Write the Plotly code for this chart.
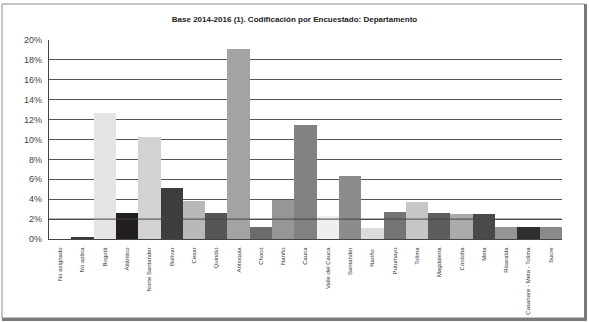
import plotly.graph_objects as go

categories = ["No asignado", "No aplica", "Bogotá", "Atlántico", "Norte Santander", "Bolívar",
              "Cesar", "Quindío", "Antioquia", "Chocó", "Nariño", "Cauca", "Valle del Cauca",
              "Santander", "Nariño ", "Putumayo", "Tolima", "Magdalena", "Córdoba", "Meta",
              "Risaralda", "Casanare - Meta - Tolima", "Sucre"]
values = [0.0, 0.2, 12.7, 2.6, 10.3, 5.1, 3.8, 2.6, 19.1, 1.2, 3.9, 11.5, 2.3,
          6.3, 1.1, 2.7, 3.7, 2.6, 2.5, 2.5, 1.2, 1.2, 1.2]
colors = ["#ffffff", "#3a3a3a", "#e4e4e4", "#231f20", "#d2d2d2", "#3d3d3d", "#b9b9b9",
          "#565656", "#a3a3a5", "#6b6b6b", "#969696", "#828282", "#efefef", "#8c8c8c",
          "#dcdcdc", "#747474", "#c6c6c6", "#5d5d5d", "#ababab", "#4a4a4a", "#959595",
          "#2f2f2f", "#8a8a8a"]
y_ticks = [0, 2, 4, 6, 8, 10, 12, 14, 16, 18, 20]
y_tick_labels = [f"{v}%" for v in y_ticks]
title = "Base 2014-2016 (1). Codificación por Encuestado: Departamento"

FONT = "Liberation Sans Narrow, Liberation Sans, Arial"

fig = go.Figure(go.Bar(x=categories, y=values, marker=dict(color=colors, line=dict(width=0)),
                       width=1.0))

W, H = 589, 322
L, R, T, B = 49, 27, 40, 83
pw, ph = W - L - R, H - T - B

def px(x):
    return (x - L) / pw

def py(y):
    return (H - B - y) / ph

shapes = [
    dict(type="rect", xref="paper", yref="paper", x0=px(2), x1=px(585), y0=py(318), y1=py(4),
         line=dict(color="#8a8a8a", width=1), layer="below"),
    dict(type="line", xref="paper", yref="paper", x0=px(585.5), x1=px(585.5), y0=py(319.5), y1=py(4),
         line=dict(color="#7a7a7a", width=3)),
    dict(type="line", xref="paper", yref="paper", x0=px(2), x1=px(587), y0=py(319.5), y1=py(319.5),
         line=dict(color="#7a7a7a", width=3)),
    dict(type="line", xref="paper", yref="y", x0=0, x1=1, y0=2, y1=2,
         line=dict(color="#444444", width=1), layer="above"),
]

fig.update_layout(
    width=W, height=H,
    margin=dict(l=L, r=R, t=T, b=B, autoexpand=False),
    paper_bgcolor="white", plot_bgcolor="white",
    showlegend=False,
    bargap=0,
    shapes=shapes,
    title=dict(text="<b>" + title + "</b>", x=0.5, xref="container", xanchor="center",
               y=1 - 19 / H, yref="container", yanchor="middle",
               font=dict(family=FONT, size=8, color="#222222")),
    xaxis=dict(type="category", tickangle=-90, tickfont=dict(family=FONT, size=6, color="#333333"),
               showline=True, linecolor="#444444", linewidth=1, showgrid=False, automargin=False,
               ticks="", ticklabelstandoff=5, range=[-0.5, len(categories) - 0.5]),
    yaxis=dict(range=[0, 20], tickvals=y_ticks, ticktext=y_tick_labels, automargin=False,
               tickfont=dict(family=FONT, size=9, color="#444444"),
               showgrid=True, gridcolor="#555555", gridwidth=1.2,
               showline=True, linecolor="#444444", linewidth=1.2,
               ticks="", zeroline=False, ticklabelstandoff=4),
)

fig.write_html("out.html", config={"displayModeBar": False},
               post_script="document.body.style.margin='0';document.body.style.overflow='hidden';")
